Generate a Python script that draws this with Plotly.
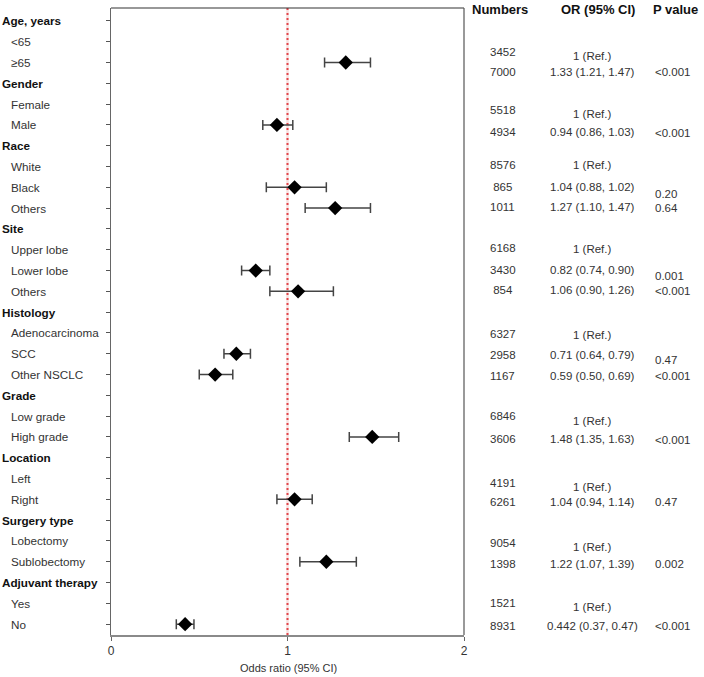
import plotly.graph_objects as go

# ---------------- data ----------------
row_labels = ["Age, years", "<65", "≥65",
              "Gender", "Female", "Male",
              "Race", "White", "Black", "Others",
              "Site", "Upper lobe", "Lower lobe", "Others",
              "Histology", "Adenocarcinoma", "SCC", "Other NSCLC",
              "Grade", "Low grade", "High grade",
              "Location", "Left", "Right",
              "Surgery type", "Lobectomy", "Sublobectomy",
              "Adjuvant therapy", "Yes", "No"]
header_rows = [0, 3, 6, 10, 14, 18, 21, 24, 27]

# plotted estimates (row index -> OR, lower, upper)
est_rows = [2, 5, 8, 9, 12, 13, 16, 17, 20, 23, 26, 29]
est_or   = [1.33, 0.94, 1.04, 1.27, 0.82, 1.06, 0.71, 0.59, 1.48, 1.04, 1.22, 0.42]
est_lo   = [1.21, 0.86, 0.88, 1.10, 0.74, 0.90, 0.64, 0.50, 1.35, 0.94, 1.07, 0.37]
est_hi   = [1.47, 1.03, 1.22, 1.47, 0.90, 1.26, 0.79, 0.69, 1.63, 1.14, 1.39, 0.47]

# table columns
tbl_numbers = ["3452", "7000", "5518", "4934", "8576", "\u00a0865", "1011",
               "6168", "3430", "\u00a0854", "6327", "2958", "1167",
               "6846", "3606", "4191", "6261", "9054", "1398", "1521", "8931"]
tbl_or = ["1 (Ref.)", "1.33 (1.21, 1.47)", "1 (Ref.)", "0.94 (0.86, 1.03)",
          "1 (Ref.)", "1.04 (0.88, 1.02)", "1.27 (1.10, 1.47)",
          "1 (Ref.)", "0.82 (0.74, 0.90)", "1.06 (0.90, 1.26)",
          "1 (Ref.)", "0.71 (0.64, 0.79)", "0.59 (0.50, 0.69)",
          "1 (Ref.)", "1.48 (1.35, 1.63)", "1 (Ref.)", "1.04 (0.94, 1.14)",
          "1 (Ref.)", "1.22 (1.07, 1.39)", "1 (Ref.)", "0.442 (0.37, 0.47)"]
tbl_p = ["", "<0.001", "", "<0.001", "", "0.20", "0.64", "", "0.001", "<0.001",
         "", "0.47", "<0.001", "", "<0.001", "", "0.47", "", "0.002", "", "<0.001"]

x_ticks = [0, 1, 2]
x_title = "Odds ratio (95% CI)"
col_headers = ["Numbers", "OR (95% CI)", "P value"]

# ---------------- layout helpers (pixel positions of text) ----------------
W_FIG, H_FIG = 704, 677
L, R, T, B = 111, 464, 8, 635
PW, PH = R - L, B - T

def px_x(px):
    return (px - L) / PW

def px_y(py):
    return (B - py) / PH

# vertical pixel positions of table lines (number col, OR col, P col)
tbl_num_py = [52, 72, 110, 132, 165, 187, 207, 248, 270, 290, 334, 355, 376,
              416, 439, 483, 502, 543, 564, 603, 626]
tbl_or_py  = [56, 72, 114, 132, 165, 187, 207, 249, 270, 290, 335, 355, 376,
              421, 439, 487, 502, 547, 564, 607, 626]
tbl_p_py   = [0, 72, 0, 133, 0, 194, 208, 0, 276, 291, 0, 360, 376,
              0, 440, 0, 502, 0, 564, 0, 626]

FONT = "Liberation Sans, Arial, Helvetica, sans-serif"

fig = go.Figure()

fig.add_trace(go.Scatter(
    x=est_or, y=est_rows, mode="markers",
    marker=dict(symbol="diamond", size=11, color="black"),
    error_x=dict(type="data", symmetric=False,
                 array=[h - o for h, o in zip(est_hi, est_or)],
                 arrayminus=[o - l for o, l in zip(est_or, est_lo)],
                 color="#444444", thickness=1.5, width=5),
    showlegend=False, hoverinfo="skip"))

shapes = [
    dict(type="line", xref="x", yref="paper", x0=1, x1=1, y0=0, y1=1,
         line=dict(color="rgba(235,175,175,0.40)", width=2.5), layer="below"),
    dict(type="line", xref="x", yref="paper", x0=1, x1=1, y0=0, y1=1,
         line=dict(color="#e2444a", width=2, dash="2px,3px"), layer="below"),
    dict(type="line", xref="paper", yref="paper", x0=0, x1=1, y0=1, y1=1,
         line=dict(color="#333333", width=1.2)),
    dict(type="line", xref="paper", yref="paper", x0=1, x1=1, y0=0, y1=1,
         line=dict(color="#555555", width=1.2)),
]

annotations = []
for i, lab in enumerate(row_labels):
    hdr = i in header_rows
    annotations.append(dict(
        xref="paper", yref="y", x=px_x(0 if hdr else 9), y=i,
        xanchor="left", yanchor="middle", showarrow=False,
        text=f"<b>{lab}</b>" if hdr else lab,
        font=dict(family=FONT, size=11.7, color="#111111" if hdr else "#333333")))

hdr_x = [(470, "left"), (598, "center"), (651, "left")]
for (hx, anc), txt in zip(hdr_x, col_headers):
    annotations.append(dict(
        xref="paper", yref="paper", x=px_x(hx), y=px_y(10),
        xanchor=anc, yanchor="middle", showarrow=False, text=f"<b>{txt}</b>",
        font=dict(family=FONT, size=13, color="#111111")))

for n, py in zip(tbl_numbers, tbl_num_py):
    annotations.append(dict(
        xref="paper", yref="paper", x=px_x(488), y=px_y(py),
        xanchor="left", yanchor="middle", showarrow=False, text=n,
        font=dict(family=FONT, size=11.5, color="#333333")))
for o, py in zip(tbl_or, tbl_or_py):
    annotations.append(dict(
        xref="paper", yref="paper", x=px_x(592), y=px_y(py),
        xanchor="center", yanchor="middle", showarrow=False, text=o,
        font=dict(family=FONT, size=11.5, color="#333333")))
for p, py in zip(tbl_p, tbl_p_py):
    if not p:
        continue
    annotations.append(dict(
        xref="paper", yref="paper", x=px_x(653), y=px_y(py),
        xanchor="left", yanchor="middle", showarrow=False,
        text=p.replace("<", "&lt;"),
        font=dict(family=FONT, size=11.5, color="#333333")))

annotations.append(dict(
    xref="paper", yref="paper", x=px_x(288), y=px_y(668),
    xanchor="center", yanchor="middle", showarrow=False, text=x_title,
    font=dict(family=FONT, size=11, color="#333333")))

fig.update_layout(
    width=W_FIG, height=H_FIG,
    margin=dict(l=L, r=W_FIG - R, t=T, b=H_FIG - B, pad=0),
    paper_bgcolor="white", plot_bgcolor="white",
    shapes=shapes, annotations=annotations,
    xaxis=dict(range=[0, 2], tickvals=x_ticks, ticktext=[str(v) for v in x_ticks],
               showgrid=False, zeroline=False, showline=True,
               linecolor="#8a8a8a", linewidth=2, ticks="outside", ticklen=4,
               tickcolor="#666666", tickfont=dict(family=FONT, size=12, color="#333333")),
    yaxis=dict(range=[29.52, -0.62], tickvals=list(range(len(row_labels))),
               showticklabels=False, showgrid=False, zeroline=False,
               showline=True, linecolor="#666666", linewidth=1.2,
               ticks="outside", ticklen=4, tickcolor="#555555"),
)

fig.write_html("out.html", config={"displayModeBar": False},
               post_script="document.body.style.margin='0';document.body.style.overflow='hidden';")
